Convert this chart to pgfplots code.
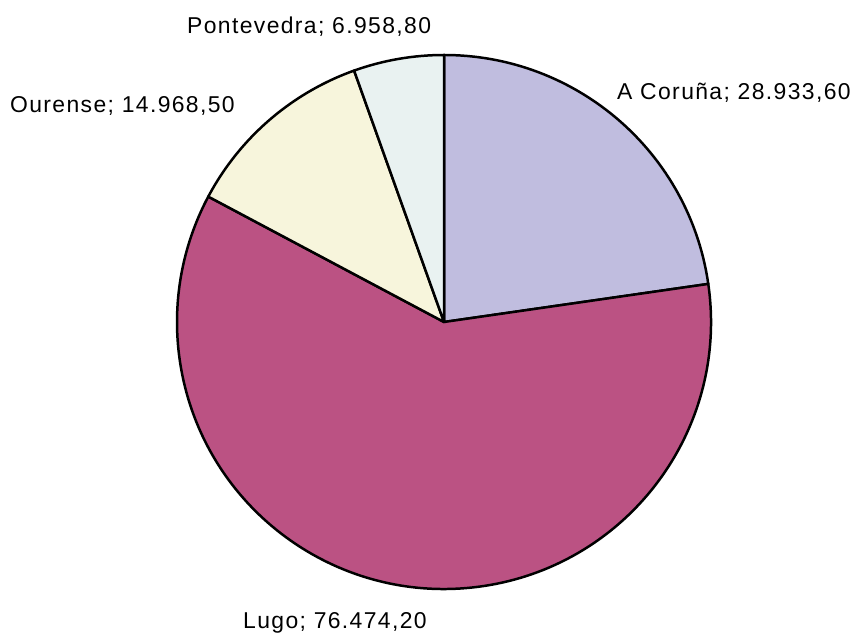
\documentclass[border=0pt]{standalone}
\usepackage{pgfplots}
\pgfplotsset{compat=1.18}
\usepackage{fontspec}
\setmainfont{Liberation Sans}
\newfontfamily\labfont[LetterSpace=6]{Liberation Sans}
\definecolor{cCor}{HTML}{C0BDDF}
\definecolor{cLug}{HTML}{BB5283}
\definecolor{cOur}{HTML}{F7F5DC}
\definecolor{cPon}{HTML}{E9F2F1}
% values
\def\vA{28933.6}
\def\vL{76474.2}
\def\vO{14968.5}
\def\vP{6958.8}
\edef\tot{\fpeval{\vA+\vL+\vO+\vP}}
\edef\aA{\fpeval{round(90-360*\vA/\tot,4)}}
\edef\aL{\fpeval{round(\aA-360*\vL/\tot,4)}}
\edef\aO{\fpeval{round(\aL-360*\vO/\tot,4)}}
\edef\aP{\fpeval{round(\aO-360*\vP/\tot,4)}}
\begin{document}
\begin{tikzpicture}
\begin{axis}[
  scale only axis, width=856bp, height=635bp,
  xmin=0, xmax=856, ymin=0, ymax=635,
  hide axis, clip=false]
\path (axis cs:0,0) rectangle (axis cs:856,635);
\def\cx{444}\def\cy{313}\def\r{267bp}
\filldraw[fill=cCor, draw=black, line width=2.5pt, line join=round]
  (axis cs:\cx,\cy) -- ++(90:\r) arc[start angle=90, end angle=\aA, radius=\r] -- cycle;
\filldraw[fill=cLug, draw=black, line width=2.5pt, line join=round]
  (axis cs:\cx,\cy) -- ++(\aA:\r) arc[start angle=\aA, end angle=\aL, radius=\r] -- cycle;
\filldraw[fill=cOur, draw=black, line width=2.5pt, line join=round]
  (axis cs:\cx,\cy) -- ++(\aL:\r) arc[start angle=\aL, end angle=\aO, radius=\r] -- cycle;
\filldraw[fill=cPon, draw=black, line width=2.5pt, line join=round]
  (axis cs:\cx,\cy) -- ++(\aO:\r) arc[start angle=\aO, end angle=\aP, radius=\r] -- cycle;
\begin{scope}[every node/.style={anchor=base west, inner sep=0pt, font=\labfont\fontsize{23}{27}\selectfont}]
\node at (axis cs:187,601) {Pontevedra; 6.958,80};
\node at (axis cs:617,535) {A Coruña; 28.933,60};
\node at (axis cs:10,522) {Ourense; 14.968,50};
\node at (axis cs:243,7) {Lugo; 76.474,20};
\end{scope}
\end{axis}
\end{tikzpicture}
\end{document}
